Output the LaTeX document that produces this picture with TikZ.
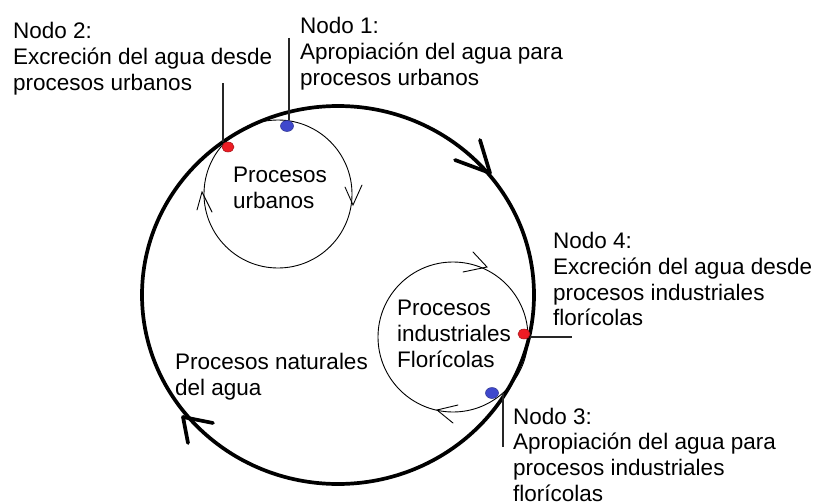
\documentclass[tikz,border=0pt]{standalone}
\usepackage{fontspec}
\setmainfont{Liberation Sans}
\usetikzlibrary{shapes.geometric}
\definecolor{dotred}{HTML}{ED1C24}
\definecolor{dotblue}{HTML}{3F48CC}
\begin{document}
\begin{tikzpicture}[x=1pt,y=-1pt,
  lbl/.style={font=\fontsize{22.5}{25.8}\selectfont, align=left, inner sep=0pt, anchor=north west, text=black},
  bigline/.style={line width=3.7pt, line cap=round, line join=round},
  thinline/.style={line width=0.9pt, line cap=round},
  leader/.style={line width=1.3pt, draw=black!85},
  reddot/.style={ellipse, draw=dotred!70!black, fill=dotred, line width=0.5pt, minimum width=12pt, minimum height=10pt, inner sep=0pt},
  bluedot/.style={ellipse, draw=dotblue!70!black, fill=dotblue, line width=0.5pt, minimum width=13pt, minimum height=11pt, inner sep=0pt}]
\useasboundingbox (0,0) rectangle (819,503);
\fill[white] (0,0) rectangle (819,503);

% circles
\node[ellipse, draw, bigline, minimum width=392pt, minimum height=378pt, inner sep=0pt] (big) at (338,295) {};
\node[circle, draw, thinline, minimum size=148pt, inner sep=0pt] (urb) at (278,194) {};
\node[circle, draw, thinline, minimum size=150pt, inner sep=0pt] (ind) at (453,337) {};

% arrowheads on the big cycle
\draw[bigline] (480,140) -- (490,173) -- (455,160);
\draw[bigline] (213,423) -- (183,417) -- (188,443);
% arrowheads on the small cycles
\draw[thinline] (345,187) -- (353,205) -- (362,185);
\draw[thinline] (197,210) -- (202,192) -- (212,212);
\draw[thinline] (473,252) -- (487,267) -- (463,272);
\draw[thinline] (458,405) -- (437,410) -- (453,423);

% node dots
\node[bluedot] (n1) at (287,126) {};
\node[reddot] (n2) at (228,147) {};
\node[bluedot] (n3) at (492,393) {};
\node[reddot] (n4) at (524,334) {};

% leader lines
\coordinate (l1) at (289,38);
\coordinate (l2) at (223,83);
\coordinate (l3) at (503,447);
\coordinate (l4) at (572,337);
\draw[leader] (l1) -- (l1 |- n1.north);
\draw[leader] (l2) -- (l2 |- n2.north);
\draw[leader] (l3 |- n3.center) -- (l3);
\draw[leader] (n4.east |- l4) -- (l4);

% labels
\node[lbl] (t2) at (13,22) {Nodo 2:\\Excreción del agua desde\\procesos urbanos};
\node[lbl] (t1) at (300,17) {Nodo 1:\\Apropiación del agua para\\procesos urbanos};
\node[lbl] (t4) at (553,232) {Nodo 4:\\Excreción del agua desde\\procesos industriales\\florícolas};
\node[lbl] (t3) at (513,407.5) {Nodo 3:\\Apropiación del agua para\\procesos industriales\\florícolas};
\node[lbl] (tu) at (233,167) {Procesos\\urbanos};
\node[lbl] (ti) at (397,300) {Procesos\\industriales\\Florícolas};
\node[lbl] (tn) at (175,353) {Procesos naturales\\del agua};
\end{tikzpicture}
\end{document}
